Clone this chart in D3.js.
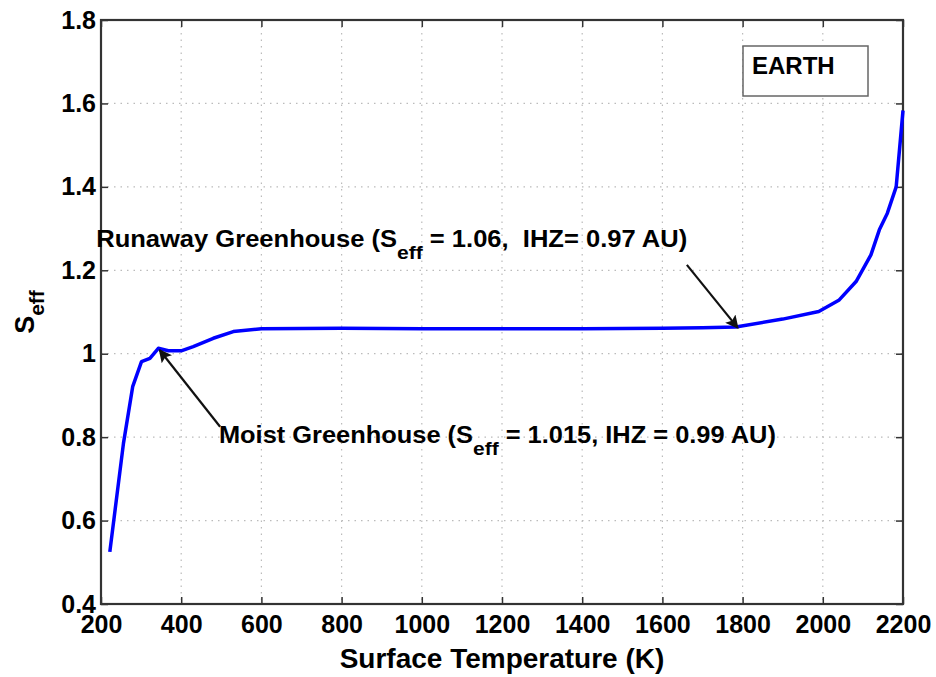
<!DOCTYPE html>
<html>
<head>
<meta charset="utf-8">
<script src="https://cdn.jsdelivr.net/npm/d3@7"></script>
<style>
  body { margin: 0; background: #fff; }
  text { font-family: "Liberation Sans", Arial, sans-serif; font-weight: bold; fill: #000; }
  .note { white-space: pre; }
</style>
</head>
<body>
<div id="chart"></div>
<script>
// surface temperature (K) vs effective flux
var temps = [222, 256, 279, 301, 322, 343, 368, 400, 430, 480, 530, 600, 800, 1000, 1200, 1400, 1600, 1700, 1783, 1900, 1990, 2041, 2083, 2120, 2141, 2161, 2183, 2200];
var seff  = [0.525, 0.785, 0.921, 0.981, 0.989, 1.013, 1.007, 1.007, 1.017, 1.037, 1.053, 1.060, 1.061, 1.060, 1.060, 1.060, 1.061, 1.062, 1.064, 1.083, 1.101, 1.129, 1.173, 1.237, 1.297, 1.337, 1.400, 1.583];
var xTicks = [200, 400, 600, 800, 1000, 1200, 1400, 1600, 1800, 2000, 2200];
var yTicks = [0.4, 0.6, 0.8, 1.0, 1.2, 1.4, 1.6, 1.8];
var yTickLabels = ["0.4", "0.6", "0.8", "1", "1.2", "1.4", "1.6", "1.8"];

var width = 936, height = 677;
var mLeft = 101, mRight = 903, mTop = 20, mBottom = 604;

var svg = d3.select("#chart").append("svg")
    .attr("width", width)
    .attr("height", height);

var x = d3.scaleLinear().domain([200, 2200]).range([mLeft, mRight]);
var y = d3.scaleLinear().domain([0.4, 1.8]).range([mBottom, mTop]);

// grid
var grid = svg.append("g")
    .attr("stroke", "#bbb")
    .attr("stroke-width", 1.2)
    .attr("stroke-dasharray", "1.5,5");
grid.selectAll("line.vx")
    .data(xTicks.slice(1, -1))
    .enter().append("line")
    .attr("x1", function(d){ return x(d); })
    .attr("x2", function(d){ return x(d); })
    .attr("y1", mTop).attr("y2", mBottom);
grid.selectAll("line.hy")
    .data(yTicks.slice(1, -1))
    .enter().append("line")
    .attr("y1", function(d){ return y(d); })
    .attr("y2", function(d){ return y(d); })
    .attr("x1", mLeft).attr("x2", mRight);

// axes (ticks inward, all four sides)
var xAxis = d3.axisBottom(x).tickValues(xTicks).tickSizeInner(-7).tickSizeOuter(0).tickPadding(11)
    .tickFormat(d3.format("d"));
var yAxis = d3.axisLeft(y).tickValues(yTicks).tickSizeInner(-7).tickSizeOuter(0).tickPadding(5)
    .tickFormat(function(d, i){ return yTickLabels[i]; });

var gx = svg.append("g").attr("transform", "translate(0," + mBottom + ")").call(xAxis);
var gy = svg.append("g").attr("transform", "translate(" + mLeft + ",0)").call(yAxis);
var gxt = svg.append("g").attr("transform", "translate(0," + mTop + ")")
    .call(d3.axisTop(x).tickValues(xTicks).tickSizeInner(-7).tickSizeOuter(0).tickFormat(""));
var gyr = svg.append("g").attr("transform", "translate(" + mRight + ",0)")
    .call(d3.axisRight(y).tickValues(yTicks).tickSizeInner(-7).tickSizeOuter(0).tickFormat(""));

[gx, gy, gxt, gyr].forEach(function(g){
    g.select(".domain").remove();
    g.selectAll(".tick line").attr("stroke", "#333").attr("stroke-width", 1.5);
});
gx.selectAll("text").style("font-size", "25px").attr("fill", "#000");
gy.selectAll("text").style("font-size", "25px").attr("fill", "#000");

// frame
svg.append("rect")
    .attr("x", mLeft).attr("y", mTop)
    .attr("width", mRight - mLeft).attr("height", mBottom - mTop)
    .attr("fill", "none").attr("stroke", "#333").attr("stroke-width", 2.2);

// curve
var line = d3.line()
    .x(function(d, i){ return x(temps[i]); })
    .y(function(d){ return y(d); });
svg.append("path")
    .datum(seff)
    .attr("d", line)
    .attr("fill", "none")
    .attr("stroke", "#0000ff")
    .attr("stroke-width", 3.5)
    .attr("stroke-linejoin", "round");

// arrows
svg.append("defs").append("marker")
    .attr("id", "ah")
    .attr("viewBox", "0 0 10 10")
    .attr("refX", 9).attr("refY", 5)
    .attr("markerWidth", 7).attr("markerHeight", 6)
    .attr("markerUnits", "strokeWidth")
    .attr("orient", "auto")
    .append("path").attr("d", "M0,0 L10,5 L0,10 L2,5 Z").attr("fill", "#111");

function arrow(t0, s0, t1, s1) {
    svg.append("line")
        .attr("x1", x(t0)).attr("y1", y(s0))
        .attr("x2", x(t1)).attr("y2", y(s1))
        .attr("stroke", "#111").attr("stroke-width", 2.2)
        .attr("marker-end", "url(#ah)");
}
arrow(1661, 1.213, 1788, 1.062);
arrow(497, 0.825, 346, 1.009);

// annotations
function note(t, s, pre, sub, post, len) {
    var tx = svg.append("text")
        .attr("class", "note")
        .attr("x", x(t)).attr("y", y(s))
        .style("font-size", "23px")
        .attr("textLength", len)
        .attr("lengthAdjust", "spacingAndGlyphs");
    tx.append("tspan").text(pre);
    tx.append("tspan").attr("dy", 12).style("font-size", "19px").text(sub);
    tx.append("tspan").attr("dy", -12).text(post);
}
note(188, 1.256, "Runaway Greenhouse (S", "eff", " = 1.06,  IHZ= 0.97 AU)", 591);
note(494, 0.786, "Moist Greenhouse (S", "eff", " = 1.015, IHZ = 0.99 AU)", 557);

// EARTH box
svg.append("rect")
    .attr("x", 743).attr("y", 46)
    .attr("width", 125).attr("height", 50)
    .attr("fill", "#fff").attr("stroke", "#666").attr("stroke-width", 1.5);
svg.append("text")
    .attr("x", 752).attr("y", 74)
    .style("font-size", "24px")
    .text("EARTH");

// axis titles
svg.append("text")
    .attr("x", (mLeft + mRight) / 2).attr("y", 668)
    .attr("text-anchor", "middle")
    .style("font-size", "28px")
    .text("Surface Temperature (K)");

var yl = svg.append("text")
    .attr("transform", "translate(34,312) rotate(-90)")
    .attr("text-anchor", "middle")
    .style("font-size", "27px");
yl.append("tspan").text("S");
yl.append("tspan").attr("dy", 10).style("font-size", "21px").text("eff");
</script>
</body>
</html>
